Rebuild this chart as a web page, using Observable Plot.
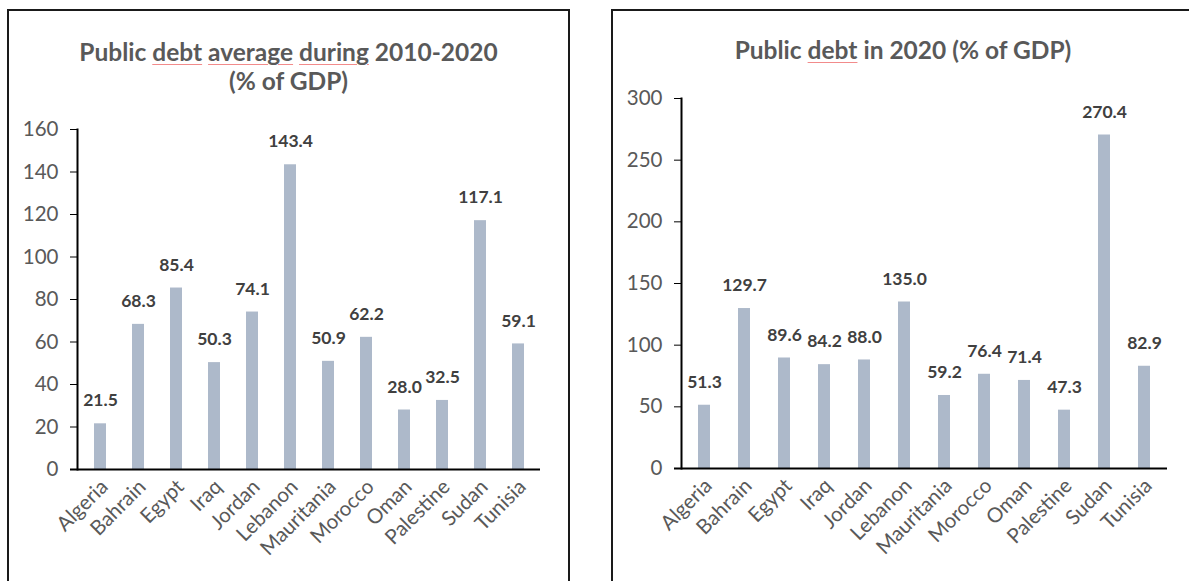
<!DOCTYPE html>
<html>
<head>
<meta charset="utf-8">
<script src="https://cdn.jsdelivr.net/npm/d3@7"></script>
<script src="https://cdn.jsdelivr.net/npm/@observablehq/plot@0.6"></script>
<style>
  html, body { margin: 0; padding: 0; background: #fff; }
  #page { position: relative; width: 1189px; height: 581px; overflow: hidden; background: #fff; font-family: Lato, "Open Sans", sans-serif; }
  .panel { position: absolute; box-sizing: border-box; border: 2px solid #1a1a1a; z-index: 2; pointer-events: none; }
  .title { position: absolute; text-align: center; font-weight: bold; font-size: 24.5px; line-height: 29px; color: #595959; z-index: 3; }
  .sp { text-decoration: underline; text-decoration-color: #f28b8b; text-decoration-thickness: 1px; text-underline-offset: 3px; }
  .chart { position: absolute; left: 0; top: 0; z-index: 1; }
</style>
</head>
<body>
<div id="page">
  <div class="panel" style="left:7px; top:9px; width:563px; height:620px;"></div>
  <div class="panel" style="left:611px; top:9px; width:620px; height:620px;"></div>
  <div class="title" style="left:7px; top:37px; width:563px;">Public <span class="sp">debt</span> <span class="sp">average</span> <span class="sp">during</span> 2010-2020<br>(% of GDP)</div>
  <div class="title" style="left:613px; top:35px; width:580px;">Public <span class="sp">debt</span> in 2020 (% of GDP)</div>
  <div id="c1" class="chart"></div>
  <div id="c2" class="chart"></div>
</div>
<script>
const countries = ["Algeria","Bahrain","Egypt","Iraq","Jordan","Lebanon","Mauritania","Morocco","Oman","Palestine","Sudan","Tunisia"];
const avg2010_2020 = [21.5,68.3,85.4,50.3,74.1,143.4,50.9,62.2,28.0,32.5,117.1,59.1];
const debt2020 = [51.3,129.7,89.6,84.2,88.0,135.0,59.2,76.4,71.4,47.3,270.4,82.9];
const ticks1 = [0,20,40,60,80,100,120,140,160];
const ticks2 = [0,50,100,150,200,250,300];

const barColor = "#adb9ca";
const textGrey = "#595959";
const font = "Lato, 'Open Sans', sans-serif";

function makeChart(values, yMax, ticks, opts) {
  const data = countries.map((c, i) => ({country: c, value: values[i]}));
  return Plot.plot({
    width: opts.width,
    height: 581,
    marginLeft: opts.marginLeft,
    marginRight: opts.marginRight,
    marginTop: opts.marginTop,
    marginBottom: opts.marginBottom,
    style: {background: "transparent", fontFamily: font, overflow: "visible"},
    x: {domain: countries, paddingInner: 0.69, paddingOuter: 0.345, label: null},
    y: {domain: [0, yMax], label: null},
    marks: [
      Plot.barY(data, {x: "country", y: "value", fill: barColor}),
      Plot.frame({anchor: "left", stroke: "#000", strokeWidth: 2}),
      Plot.ruleY([0], {stroke: "#000", strokeWidth: 2, insetLeft: -7}),
      Plot.axisY({ticks: ticks, tickSize: 7, tickPadding: 12, stroke: "#000", fill: textGrey, fontSize: 20.5, label: null, tickFormat: d => d}),
      Plot.axisX({tickSize: 0, tickRotate: -45, tickPadding: 14, fill: textGrey, fontSize: 20.5, label: null, dx: 4}),
      Plot.text(data, {x: "country", y: "value", text: d => d.value.toFixed(1), dy: -23, fontWeight: "bold", fontSize: 17.5, fill: "#404040"})
    ]
  });
}

document.getElementById("c1").appendChild(makeChart(avg2010_2020, 160, ticks1, {width: 569, marginLeft: 77, marginRight: 29, marginTop: 129, marginBottom: 112}));
document.getElementById("c2").appendChild(makeChart(debt2020, 300, ticks2, {width: 1189, marginLeft: 681, marginRight: 22, marginTop: 98, marginBottom: 113}));
</script>
</body>
</html>
